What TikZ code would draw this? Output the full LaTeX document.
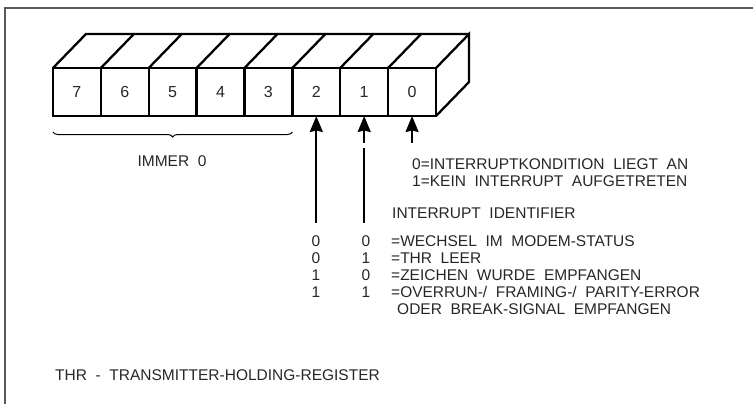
\documentclass[tikz,border=0pt]{standalone}
\usepackage{fontspec}
\setmainfont{Liberation Sans}[WordSpace=2]
\usetikzlibrary{arrows.meta, decorations.pathreplacing}

\begin{document}
\begin{tikzpicture}[x=1pt, y=-1pt, >={Stealth[length=16pt, width=13pt, inset=1.5pt]},
  every node/.style={font=\fontsize{15.5}{17}\selectfont, text=black!85, inner sep=0pt, text height=11pt, text depth=0pt},
  bitbox/.style={draw, line width=2.3pt, outer sep=0pt, minimum width=47.9pt, minimum height=48pt, font=\fontsize{16}{18}\selectfont},
  boxline/.style={line width=2.3pt, line join=miter},
  bitarrow/.style={->, line width=1.8pt},
  brace/.style={decorate, decoration={brace, mirror, amplitude=5pt}, line width=1pt},
  frame/.style={line width=1.4pt, black!65}]

  \useasboundingbox (0,0) rectangle (753,404);

  % page frame (only top and left edge visible)
  \draw[frame] (753,8) -- (5,8) -- (5,404);

  % register bits 7 ... 0
  \foreach \b in {0,...,7} {
    \node[bitbox] (b\b) at ({436-47.875*(\b+0.5)},92) {\b};
    \draw[boxline] (b\b.north west) -- ++(33,-34) -- ++(47.875,0);
  }
  \draw[boxline] (b0.north east) -- ++(33,-34) -- ++(0,48) -- (b0.south east);

  % bits 7 ... 3 always zero
  \draw[brace] ([yshift=-16pt]b7.south west) -- ([yshift=-16pt]b3.south east);
  \node (immer) at (172,161) {IMMER 0};

  % arrows to bits 2, 1, 0
  \coordinate (s2) at ([yshift=-107pt]b2.south);
  \coordinate (s1) at ([yshift=-107pt]b1.south);
  \coordinate (s0) at ([yshift=-27pt]b0.south);
  \draw[bitarrow] (s2) -- (b2.south);
  \draw[bitarrow, dash pattern=on 75pt off 5pt on 40pt] (s1) -- (b1.south);
  \draw[bitarrow] (s0) -- (b0.south);

  % bit 0
  \node[anchor=west] (int0) at (412,164) {0=INTERRUPTKONDITION LIEGT AN};
  \node[anchor=west] (int1) at (412,181) {1=KEIN INTERRUPT AUFGETRETEN};

  % bits 2 and 1
  \node[anchor=west] (ident) at (392,213) {INTERRUPT IDENTIFIER};
  \node (r0a) at (316,241) {0};
  \node (r0b) at (366,241) {0};
  \node[anchor=west] (r0t) at (391,241) {=WECHSEL IM MODEM-STATUS};
  \node (r1a) at (316,258) {0};
  \node (r1b) at (366,258) {1};
  \node[anchor=west] (r1t) at (391,258) {=THR LEER};
  \node (r2a) at (316,275) {1};
  \node (r2b) at (366,275) {0};
  \node[anchor=west] (r2t) at (391,275) {=ZEICHEN WURDE EMPFANGEN};
  \node (r3a) at (316,292) {1};
  \node (r3b) at (366,292) {1};
  \node[anchor=west] (r3t) at (391,292) {=OVERRUN-/ FRAMING-/ PARITY-ERROR};
  \node[anchor=west] (r4t) at (397,309) {ODER BREAK-SIGNAL EMPFANGEN};

  % footnote
  \node[anchor=west] (thr) at (55,375) {THR - TRANSMITTER-HOLDING-REGISTER};

\end{tikzpicture}
\end{document}
